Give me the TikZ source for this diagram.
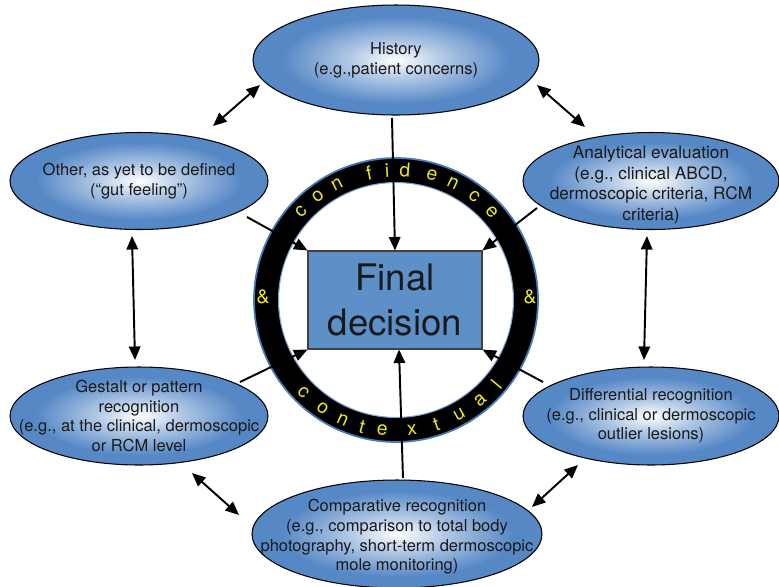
\documentclass[tikz,border=0pt]{standalone}
\usepackage{fontspec}
\setmainfont{TeX Gyre Heros}
\usetikzlibrary{arrows.meta,shapes.geometric}
\definecolor{ellblue}{RGB}{86,136,198}
\definecolor{rectblue}{RGB}{94,144,200}
\definecolor{ringblue}{RGB}{72,122,182}
\definecolor{ringtext}{RGB}{236,232,30}
\pgfdeclareradialshading{ellshade}{\pgfpoint{0bp}{0bp}}{color(0bp)=(white); color(8bp)=(ellblue!45!white); color(20bp)=(ellblue); color(25bp)=(ellblue); color(50bp)=(ellblue)}
\tikzset{
  ell/.style={ellipse, draw=black, line width=0.6pt, shading=ellshade, inner sep=0pt},
  etxt/.style={align=center, inner sep=0pt, text=black!90, font=\fontsize{9.4}{11.2}\selectfont},
  arr/.style={-{Triangle[length=0.27cm,width=0.23cm]}, line width=1.1pt},
  dbl/.style={{Triangle[length=0.27cm,width=0.23cm]}-{Triangle[length=0.27cm,width=0.23cm]}, line width=1.1pt},
  ringtxt/.style={text=ringtext, font=\fontsize{11}{13}\selectfont, inner sep=0pt},
}
\begin{document}
\begin{tikzpicture}[x=0.02cm, y=-0.02cm]
\useasboundingbox (0,0) rectangle (779,586);

% ellipses
\node[ell, minimum width=5.72cm, minimum height=2.2cm] (hist) at (396,60) {};
\node[etxt] (histt) at (hist) {History\\(e.g.,patient concerns)};
\node[ell, minimum width=5.16cm, minimum height=1.94cm] (other) at (139,181) {};
\node[etxt] (othert) at (other) {Other, as yet to be defined\\(“gut feeling”)};
\node[ell, minimum width=5.12cm, minimum height=1.94cm] (anal) at (651,181) {};
\node[etxt, font=\fontsize{9.8}{11.6}\selectfont] (analt) at ([yshift=-0.08cm]anal.center) {Analytical evaluation\\(e.g., clinical ABCD,\\dermoscopic criteria, RCM\\criteria)};
\node[ell, minimum width=5.16cm, minimum height=1.96cm] (gest) at (139,416) {};
\node[etxt] (gestt) at (gest) {Gestalt or pattern\\recognition\\(e.g., at the clinical, dermoscopic\\or RCM level};
\node[ell, minimum width=5.12cm, minimum height=1.96cm] (diff) at (651,416) {};
\node[etxt] (difft) at (diff) {Differential recognition\\(e.g., clinical or dermoscopic\\outlier lesions)};
\node[ell, minimum width=5.8cm, minimum height=2.16cm] (comp) at (397,534) {};
\node[etxt] (compt) at ([yshift=-0.06cm]comp.center) {Comparative recognition\\(e.g., comparison to total body\\photography, short-term dermoscopic\\mole monitoring)};

% ring
\coordinate (rc) at (396,300);
\fill[black, even odd rule] (rc) circle[radius=2.84cm] (rc) circle[radius=2.35cm];
\draw[ringblue, line width=1pt] (rc) circle[radius=2.84cm];
\draw[ringblue!70!white, line width=0.6pt] (rc) circle[radius=2.35cm];

% final decision
\node[draw=black!75, line width=0.6pt, fill=rectblue, minimum width=3.48cm, minimum height=1.96cm, inner sep=0pt, align=center, font=\fontsize{20.8}{25.6}\selectfont, text=black!90] (fd) at (395,300) {Final\\decision};

% start points of connectors
\coordinate (hs) at (392,118);
\coordinate (os) at (247,217);
\coordinate (as) at (537,208);
\coordinate (gs) at (240,382);
\coordinate (ds) at (543,382);
\coordinate (cs) at (403,478);
\draw[arr] (hs) -- (fd.north);
\draw[arr] (os) -- (fd.north west);
\draw[arr] (as) -- (fd.north east);
\draw[arr] (gs) -- (fd.south west);
\draw[arr] (ds) -- (fd.south east);
\draw[arr] (cs) -- ([xshift=0.08cm]fd.south);

% double arrows between ellipses
\coordinate (ho1) at (260,85);  \coordinate (ho2) at (213,126);
\coordinate (ha1) at (537,85);  \coordinate (ha2) at (585,127);
\coordinate (og1) at (132,236); \coordinate (og2) at (135,360);
\coordinate (ad1) at (647,236); \coordinate (ad2) at (644,360);
\coordinate (gc1) at (192,473); \coordinate (gc2) at (239,515);
\coordinate (dc1) at (578,465); \coordinate (dc2) at (532,507);
\draw[dbl] (ho1) -- (ho2);
\draw[dbl] (ha1) -- (ha2);
\draw[dbl] (og1) -- (og2);
\draw[dbl] (ad1) -- (ad2);
\draw[dbl] (gc1) -- (gc2);
\draw[dbl] (dc1) -- (dc2);

% ring text
\begin{scope}[shift={(396,300)}, x=0.02cm, y=0.02cm]
\foreach \a/\l in {137/c,127/o,117/n,102/f,94/i,86/d,74/e,64/n,53/c,42.5/e}
  \node[ringtxt, rotate=\a-90] at (\a:130) {\l};
\foreach \a/\l in {-135/c,-124/o,-114/n,-105/t,-96/e,-83/x,-72/t,-61/u,-50/a,-40/l}
  \node[ringtxt, rotate=\a+90] at (\a:131) {\l};
\node[ringtxt] (ampl) at (-133,3) {\&};
\node[ringtxt] (ampr) at (134,3) {\&};
\end{scope}
\end{tikzpicture}
\end{document}
